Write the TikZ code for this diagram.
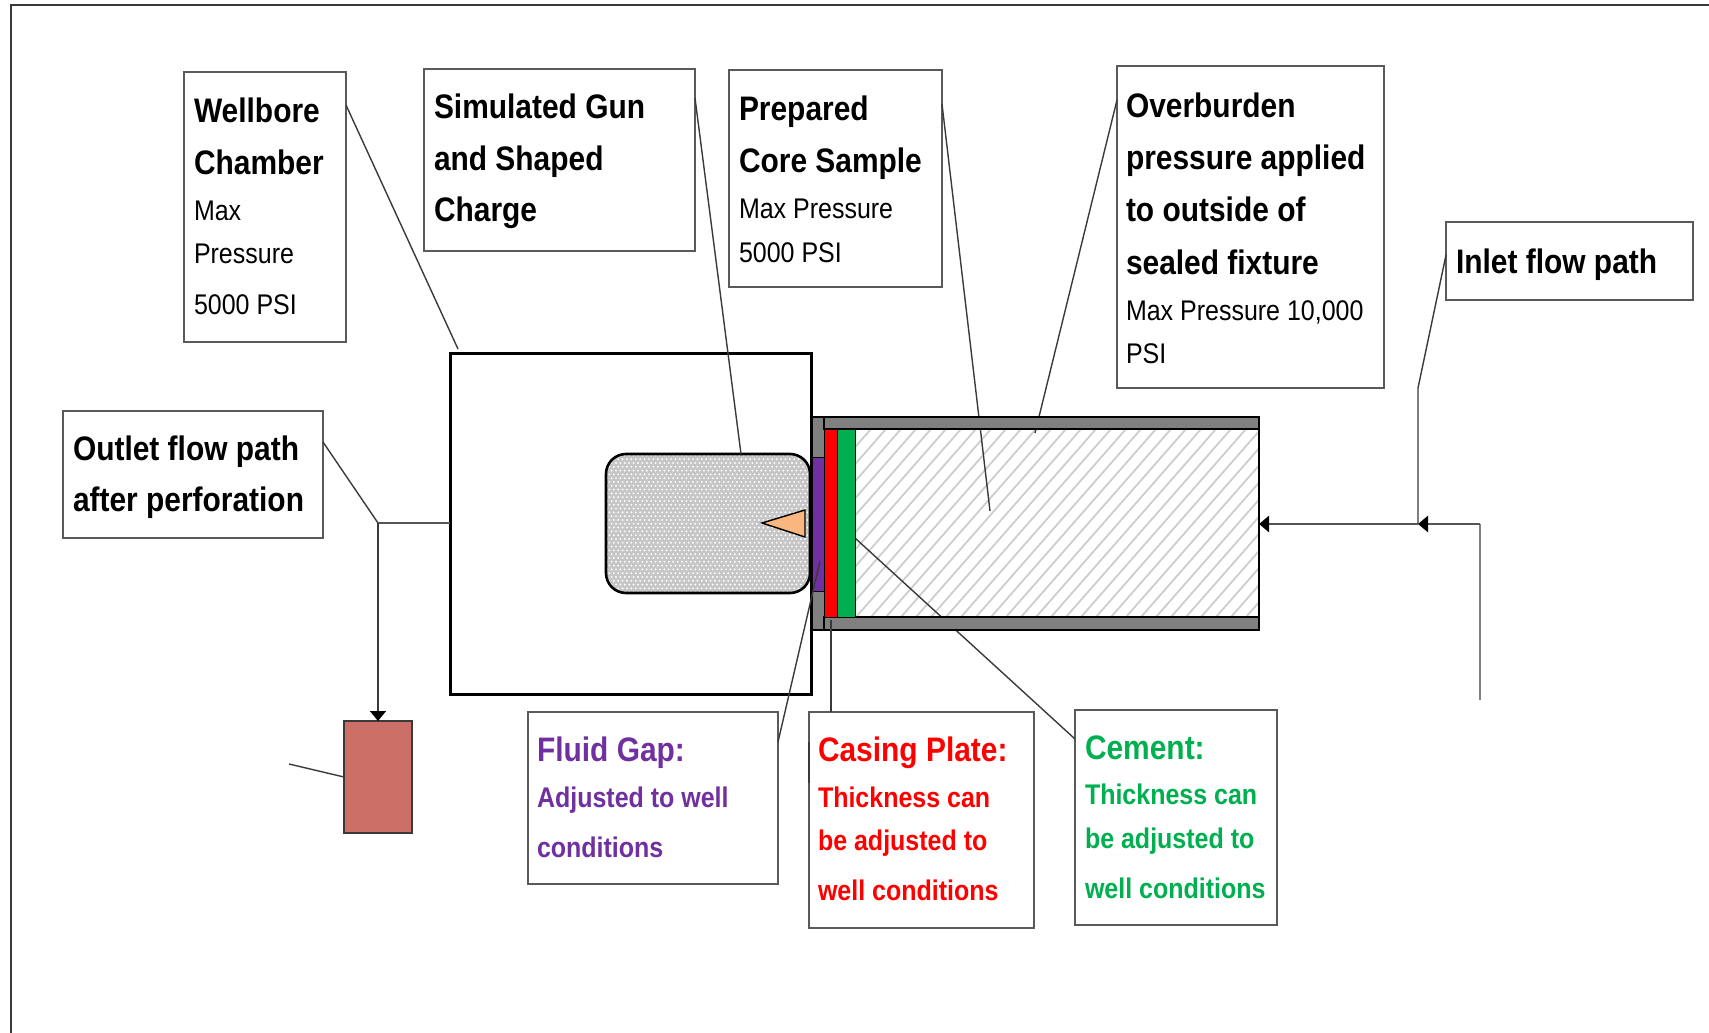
\documentclass[tikz,border=0pt]{standalone}
\usepackage{fontspec}
\setmainfont[FakeStretch=0.88]{Liberation Sans}
\usetikzlibrary{arrows.meta,patterns}
\newcommand{\tln}[3]{\vbox to #1pt{\vss\hbox{\kern #2pt\smash{#3}}}}
\newcommand{\hbb}[1]{{\fontsize{34}{34}\selectfont\bfseries #1}}
\newcommand{\hrr}[1]{{\fontsize{28.4}{28.4}\selectfont #1}}
\newcommand{\hsb}[1]{{\fontsize{28.4}{28.4}\selectfont\bfseries #1}}
\newcommand{\lbox}[3]{\parbox[c][#2pt][t]{#1pt}{\offinterlineskip\nointerlineskip\hbox to #1pt{\hss}#3}}
\pgfdeclarepatternformonly{gundots}{\pgfqpoint{-1pt}{-1pt}}{\pgfqpoint{3.4pt}{6.6pt}}{\pgfqpoint{4.4pt}{7.6pt}}{%
  \pgfpathcircle{\pgfqpoint{0pt}{0pt}}{1.05pt}%
  \pgfpathcircle{\pgfqpoint{2.2pt}{3.8pt}}{1.05pt}%
  \pgfusepath{fill}}
\definecolor{fluidc}{HTML}{7030A0}
\definecolor{redc}{HTML}{FF0000}
\definecolor{greenc}{HTML}{00B050}
\definecolor{salmonc}{HTML}{CC6F66}
\definecolor{chargec}{HTML}{F9B67E}
\definecolor{wallc}{HTML}{808080}
\definecolor{linec}{HTML}{3A3A3A}
\definecolor{boxc}{HTML}{5A5A5A}
\definecolor{hatchc}{HTML}{CDCDCD}
\definecolor{flowc}{HTML}{555555}
\tikzset{
  x=1pt,y=-1pt,
  tbox/.style={draw=boxc,line width=1.8pt,fill=white,inner sep=0pt,outer sep=0pt,anchor=north west,text=black},
  block/.style={inner sep=0pt,outer sep=0pt,anchor=north west},
  leader/.style={draw=linec,line width=1.4pt},
  flow/.style={draw=flowc,line width=2.6pt},
  tip/.style={-{Triangle[length=10pt,width=16pt,color=black]}},
  wall/.style={block,fill=wallc,draw=black,line width=1.4pt},
}
\begin{document}
\begin{tikzpicture}
\useasboundingbox (0,0) rectangle (1709,1033);
% outer frame
\coordinate (fbl) at (11,1033);
\coordinate (ftl) at (11,5);
\coordinate (ftr) at (1709,5);
\draw[draw=linec,line width=2pt] (fbl) -- (ftl) -- (ftr);

% wellbore chamber
\node[block,draw=black,line width=3pt,fill=white,minimum width=361pt,minimum height=341pt] (chamber) at (450,353) {};

% core
\node[block,minimum width=403pt,minimum height=188pt] (core) at (856,429) {};
\begin{scope}
\clip (856,429) rectangle (1259,617);
\foreach \i in {-12,...,27} \draw[draw=hatchc,line width=1.8pt] (856+\i*15,617) -- ++(165,-188);
\end{scope}

% text boxes
\node[tbox] (wellbore) at (184,72) {\lbox{162}{270}{\tln{50}{10}{\hbb{Wellbore}}\tln{52}{10}{\hbb{Chamber}}\tln{46}{10}{\hrr{Max}}\tln{43}{10}{\hrr{Pressure}}\tln{51}{10}{\hrr{5000 PSI}}}};
\node[tbox] (gunbox) at (424,69) {\lbox{271}{182}{\tln{49}{10}{\hbb{Simulated Gun}}\tln{52}{10}{\hbb{and Shaped}}\tln{52}{10}{\hbb{Charge}}}};
\node[tbox] (corebox) at (729,70) {\lbox{213}{217}{\tln{50}{10}{\hbb{Prepared}}\tln{52}{10}{\hbb{Core Sample}}\tln{46}{10}{\hrr{Max Pressure}}\tln{44}{10}{\hrr{5000 PSI}}}};
\node[tbox] (overbox) at (1117,66) {\lbox{267}{322}{\tln{51}{9}{\hbb{Overburden}}\tln{52}{9}{\hbb{pressure applied}}\tln{52}{9}{\hbb{to outside of}}\tln{53}{9}{\hbb{sealed fixture}}\tln{46}{9}{\hrr{Max Pressure 10,000}}\tln{43}{9}{\hrr{PSI}}}};
\node[tbox] (inletbox) at (1446,222) {\lbox{247}{78}{\tln{51}{10}{\hbb{Inlet flow path}}}};
\node[tbox] (outletbox) at (63,411) {\lbox{260}{127}{\tln{49}{10}{\hbb{Outlet flow path}}\tln{51}{10}{\hbb{after perforation}}}};
\node[tbox] (fluidbox) at (528,712) {\lbox{250}{172}{\tln{49}{9}{\color{fluidc}\hbb{Fluid Gap:}}\tln{46}{9}{\color{fluidc}\hsb{Adjusted to well}}\tln{50}{9}{\color{fluidc}\hsb{conditions}}}};
\node[tbox] (casingbox) at (809,712) {\lbox{225}{216}{\tln{49}{9}{\color{redc}\hbb{Casing Plate:}}\tln{46}{9}{\color{redc}\hsb{Thickness can}}\tln{43}{9}{\color{redc}\hsb{be adjusted to}}\tln{50}{9}{\color{redc}\hsb{well conditions}}}};
\node[tbox] (cementbox) at (1075,710) {\lbox{202}{215}{\tln{49}{10}{\color{greenc}\hbb{Cement:}}\tln{45}{10}{\color{greenc}\hsb{Thickness can}}\tln{44}{10}{\color{greenc}\hsb{be adjusted to}}\tln{50}{10}{\color{greenc}\hsb{well conditions}}}};

% leaders that pass behind the walls
\coordinate (lc) at (990,511);
\draw[leader] ([yshift=-34pt]corebox.north east) -- (lc);
\coordinate (lo) at (1035,433);
\draw[leader] ([yshift=-34pt]overbox.north west) -- (lo);
\coordinate (lce) at (855,538);
\draw[leader] ([yshift=-29pt]cementbox.north west) -- (lce);

% walls
\node[wall,minimum width=13pt,minimum height=213pt] (endwall) at (812,417) {};
\node[wall,minimum width=435pt,minimum height=12pt] (topwall) at (824,417) {};
\node[wall,minimum width=435pt,minimum height=13pt] (botwall) at (824,617) {};
\draw[draw=black,line width=1.4pt] (core.north east) -- (core.south east);
\node[block,fill=fluidc,draw=black,line width=1pt,minimum width=12pt,minimum height=134pt] (fluid) at (812,457) {};
\node[block,fill=redc,draw=black,line width=1pt,minimum width=13pt,minimum height=188pt] (casing) at (824,429) {};
\node[block,fill=greenc,draw=black,line width=1pt,minimum width=18pt,minimum height=188pt] (cement) at (837,429) {};

% gun
\node[block,fill=gray!45,minimum width=204pt,minimum height=139pt,rounded corners=20pt] (gunbg) at (606,454) {};
\node[block,draw=black,line width=2.6pt,pattern=gundots,pattern color=white,minimum width=204pt,minimum height=139pt,rounded corners=20pt] (gun) at (606,454) {};
\coordinate (c1) at (762,523);
\coordinate (c2) at (805,510);
\coordinate (c3) at (805,537);
\draw[draw=black,line width=1.4pt,fill=chargec] (c1) -- (c2) -- (c3) -- cycle;

% sink
\node[block,fill=salmonc,draw=linec,line width=1.8pt,minimum width=68pt,minimum height=112pt] (sink) at (344,721) {};

% leaders
\coordinate (lw) at (458,349);
\draw[leader] ([yshift=-33pt]wellbore.north east) -- (lw);
\coordinate (lg) at (741,454);
\draw[leader] ([yshift=-29pt]gunbox.north east) -- (lg);
\coordinate (li) at (1418,388);
\coordinate (flowj) at (1418,524);
\draw[leader] ([yshift=-33pt]inletbox.north west) -- (li) -- (flowj);
\coordinate (lf) at (820,561);
\draw[leader] ([yshift=-30pt]fluidbox.north east) -- (lf);
\coordinate (lca) at (831,620);
\draw[leader] (casingbox.north west -| lca) -- (lca);
\draw[leader] ([yshift=-30pt]casingbox.north west) -- ([yshift=-71pt]casingbox.north west);
\coordinate (junc) at (378,523);
\draw[leader] ([yshift=-31pt]outletbox.north east) -- (junc);
\coordinate (stub) at (289,764);
\draw[leader] (stub) -- ([yshift=-56pt]sink.north west);

% flow lines
\draw[flow] (chamber.west |- junc) -- (junc);
\draw[leader,tip] (junc) -- (sink.north -| junc);
\coordinate (inbot) at (1480,700);
\coordinate (incor) at (1480,524);
\draw[flow,draw=wallc] (inbot) -- (incor);
\draw[flow,tip] (incor) -- (flowj);
\draw[flow,tip] (flowj) -- (core.east |- flowj);
\end{tikzpicture}
\end{document}
